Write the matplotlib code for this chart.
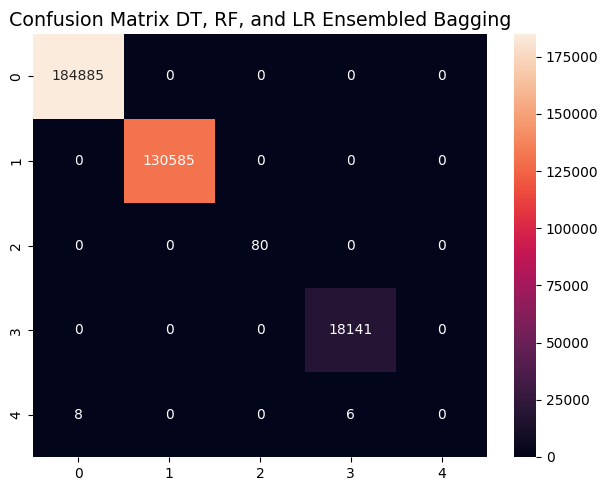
import numpy as np
import matplotlib
matplotlib.use("Agg")
import matplotlib.pyplot as plt
import seaborn as sns

# 混淆矩阵数据
labels = [0, 1, 2, 3, 4]
row0 = [184885, 0, 0, 0, 0]
row1 = [0, 130585, 0, 0, 0]
row2 = [0, 0, 80, 0, 0]
row3 = [0, 0, 0, 18141, 0]
row4 = [8, 0, 0, 6, 0]

cm = np.array([row0, row1, row2, row3, row4])

fig = plt.figure(figsize=(6.08, 4.86), dpi=100)
ax = fig.add_axes([0.0543, 0.0597, 0.7467, 0.870])
cax = fig.add_axes([0.8454, 0.0597, 0.0362, 0.870])

sns.heatmap(cm, annot=True, fmt='d', ax=ax, cbar_ax=cax,
            xticklabels=labels, yticklabels=labels)
ax.set_title('Confusion Matrix DT, RF, and LR Ensembled Bagging', fontsize=13.7)

plt.savefig('out.png', dpi=100)
plt.close()
